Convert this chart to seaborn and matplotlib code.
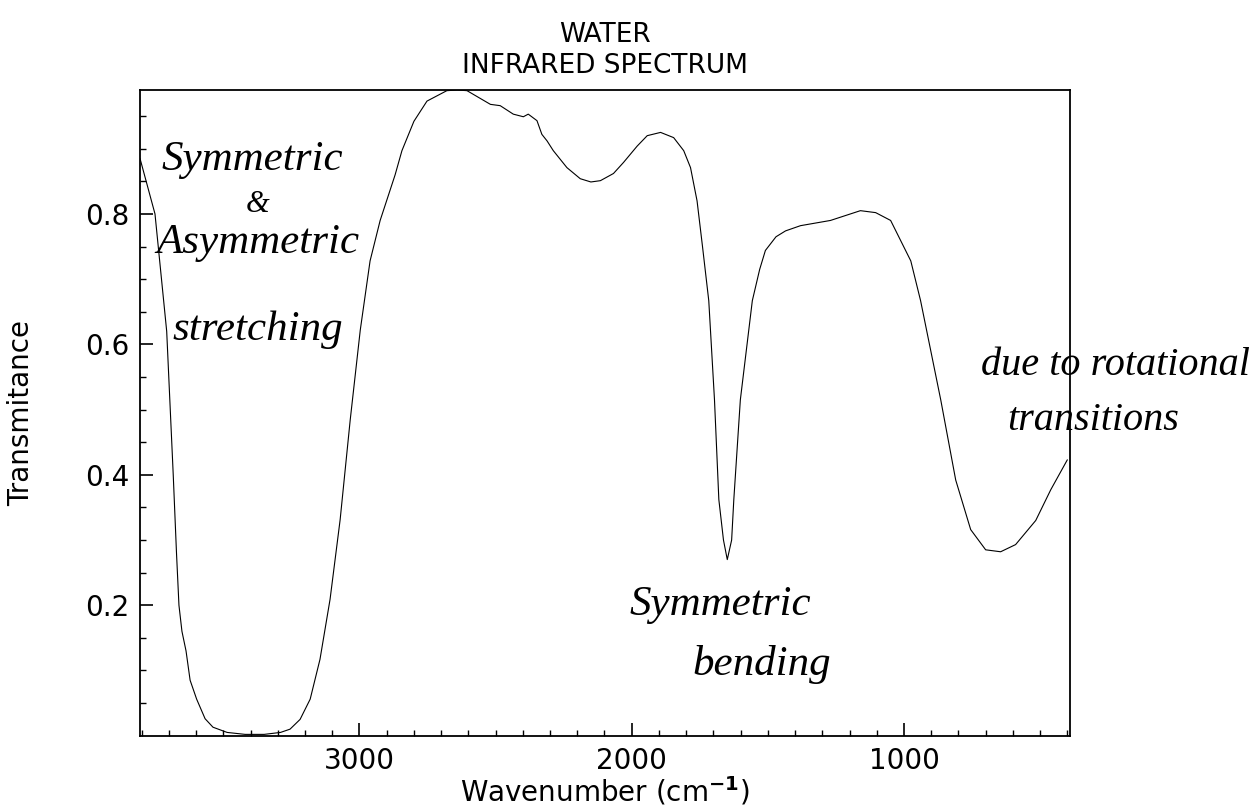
import numpy as np
import pandas as pd
import seaborn as sns
import matplotlib.pyplot as plt

# Spekter vode: valovno število (cm^-1) in prepustnost
wavenumber = [3806, 3751, 3708, 3684, 3672, 3663, 3652, 3637, 3622, 3598, 3567, 3538, 3486, 3420,
              3350, 3290, 3255, 3218, 3181, 3145, 3108, 3071, 3034, 2997, 2961, 2924,
              2869, 2844, 2800, 2752, 2679, 2640, 2605, 2560, 2519, 2483, 2435, 2398,
              2380, 2348, 2330, 2311, 2288, 2238, 2189, 2150, 2115, 2067, 2030, 1980,
              1943, 1894, 1846, 1809, 1784, 1760, 1740, 1717, 1696, 1680, 1663, 1649,
              1633, 1625, 1601, 1557, 1530, 1509, 1470, 1435, 1380, 1270, 1160, 1104, 1049, 975,
              939, 865, 810, 755, 700, 645, 590, 516, 461, 400]
transmittance = [0.885, 0.80, 0.62, 0.40, 0.28, 0.20, 0.16, 0.13, 0.085, 0.056, 0.026, 0.013, 0.005, 0.002,
                 0.002, 0.005, 0.010, 0.025, 0.056, 0.117, 0.209, 0.331, 0.484, 0.622, 0.728, 0.79,
                 0.86, 0.897, 0.942, 0.973, 0.989, 0.990, 0.989, 0.978, 0.968, 0.966, 0.953, 0.949,
                 0.953, 0.943, 0.922, 0.912, 0.897, 0.871, 0.854, 0.849, 0.851, 0.862, 0.879, 0.904,
                 0.920, 0.925, 0.917, 0.897, 0.871, 0.82, 0.75, 0.667, 0.515, 0.362, 0.30, 0.27,
                 0.30, 0.362, 0.515, 0.667, 0.715, 0.744, 0.765, 0.774, 0.782, 0.79, 0.805, 0.802, 0.79, 0.728,
                 0.667, 0.515, 0.392, 0.316, 0.285, 0.282, 0.293, 0.33, 0.377, 0.423]

x_ticks = [3000, 2000, 1000]
y_ticks = [0.2, 0.4, 0.6, 0.8]

df = pd.DataFrame({"wn": wavenumber, "T": transmittance})

sns.set_style("ticks")
plt.rcParams["font.family"] = "DejaVu Sans"
plt.rcParams["text.color"] = "black"
plt.rcParams["axes.labelcolor"] = "black"
plt.rcParams["xtick.color"] = "black"
plt.rcParams["ytick.color"] = "black"

fig = plt.figure(figsize=(12.58, 8.08), dpi=100)
ax = fig.add_axes([0.1113, 0.0895, 0.7393, 0.7991])

sns.lineplot(data=df, x="wn", y="T", ax=ax, color="black", linewidth=0.8)

ax.set_xlim(3806, 390)
ax.set_ylim(0, 0.99)
ax.set_xticks(x_ticks)
ax.set_xticks(np.arange(3800, 390, -100), minor=True)
ax.set_yticks(y_ticks)
ax.set_yticks(np.arange(0.05, 0.99, 0.05), minor=True)
ax.tick_params(which="major", direction="in", length=9.5, width=1.2, labelsize=20,
               top=False, right=False, pad=8)
ax.tick_params(which="minor", direction="in", length=4.5, width=1.0, top=False, right=False)
for s in ax.spines.values():
    s.set_color("black")
    s.set_linewidth(1.3)

ax.set_xlabel("Wavenumber (cm$^{\\mathbf{-1}}$)", fontsize=20, labelpad=0)
ax.set_ylabel("Transmitance", fontsize=20, labelpad=36)
ax.set_title("WATER\nINFRARED SPECTRUM", fontsize=19, pad=12, linespacing=1.25)

# Ročno napisane opombe
hand = dict(family="Liberation Serif", fontstyle="italic", color="black", ha="center", va="center")
W, H = 1258, 808
def note(px, py, s, size):
    fig.text(px / W, 1 - py / H, s, fontsize=size, **hand)

note(252, 160, "Symmetric", 31)
note(258, 205, "&", 22)
note(258, 243, "Asymmetric", 31)
note(258, 330, "stretching", 31)
note(1115, 365, "due to rotational", 29)
note(1093, 420, "transitions", 29)
note(720, 605, "Symmetric", 31)
note(762, 665, "bending", 31)

fig.savefig("out.png", dpi=100, facecolor="white")
